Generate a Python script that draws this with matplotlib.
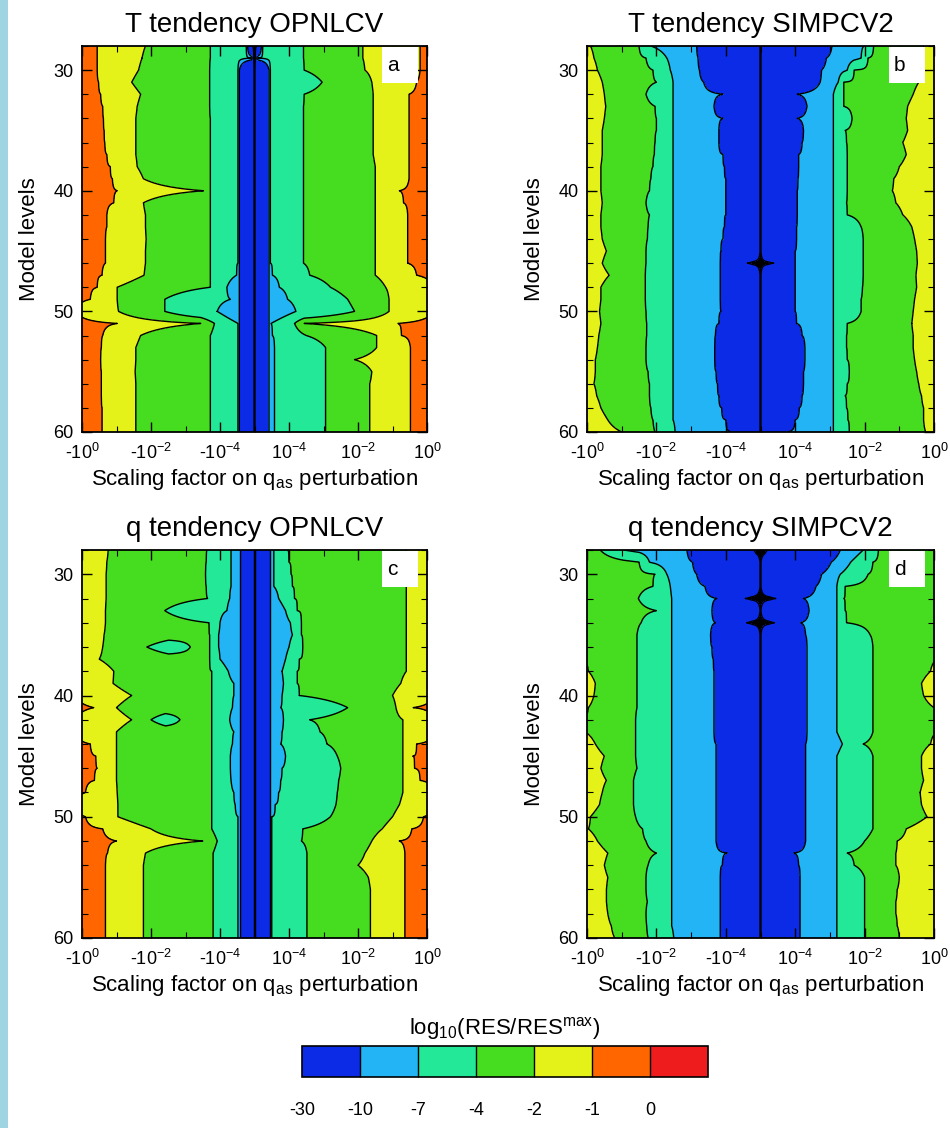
import numpy as np
import matplotlib
matplotlib.use('Agg')
import matplotlib.pyplot as plt
from matplotlib.colors import ListedColormap, BoundaryNorm
from matplotlib.patches import Rectangle
from matplotlib.cm import ScalarMappable

plt.rcParams['font.family'] = ['Liberation Sans', 'DejaVu Sans']
plt.rcParams['mathtext.fontset'] = 'custom'
plt.rcParams['mathtext.rm'] = 'Liberation Sans'
plt.rcParams['mathtext.it'] = 'Liberation Sans:italic'
plt.rcParams['contour.negative_linestyle'] = 'solid'

# ---------------- data ----------------
model_levels = list(range(28, 61))  # 33 rows
contour_levels = [-30, -10, -7, -4, -2, -1, 0]
fill_colors = ['#0b2be6', '#22b4f4', '#22e898', '#46dc20', '#e4f21a', '#ff6600', '#ee1c1c']
x_tick_labels = [r'-10$^{0}$', r'-10$^{-2}$', r'-10$^{-4}$', r'10$^{-4}$', r'10$^{-2}$', r'10$^{0}$']
titles = ['T tendency OPNLCV', 'T tendency SIMPCV2', 'q tendency OPNLCV', 'q tendency SIMPCV2']
panel_letters = ['a', 'b', 'c', 'd']

# boundary positions (x in tick units 0..5) per model level 28..60
# B1: orange|yellow, B2: yellow|green, B3: green|teal, B4: teal|lightblue, B5: lightblue|blue
a_b1l = [0.22,0.22,0.22,0.24,0.27,0.30,0.31,0.32,0.33,0.36,0.41,0.44,0.51,0.46,0.36,0.36,0.34,0.34,0.34,0.29,0.22,0.12,-0.1,0.51,0.30,0.28,0.27,0.28,0.28,0.28,0.29,0.29,0.29]
a_b2l = [0.92,0.87,0.82,0.72,0.85,0.80,0.78,0.78,0.78,0.78,0.80,0.89,1.76,0.89,0.92,0.92,0.93,0.92,0.92,0.90,0.51,0.51,0.53,1.72,0.85,0.78,0.78,0.77,0.78,0.78,0.78,0.78,0.78]
a_b3l = [1.86,1.86,1.85,1.85,1.85,1.85,1.86,1.86,1.86,1.86,1.86,1.86,1.86,1.86,1.86,1.86,1.86,1.86,1.86,1.86,1.86,1.20,1.20,1.92,1.86,1.86,1.86,1.86,1.86,1.86,1.86,1.86,1.86]
a_b4l = [2.38,2.45,2.26,2.26,2.26,2.26,2.26,2.26,2.26,2.26,2.26,2.26,2.26,2.26,2.26,2.26,2.26,2.26,2.26,2.24,2.10,2.15,1.96,2.26,2.26,2.26,2.26,2.26,2.26,2.26,2.26,2.26,2.26]
a_b5l = [2.40,2.47] + [2.28]*31
a_core = [0.03,0.01] + [0.006]*31
a_b5r = [2.60,2.53] + [2.71]*31
a_b4r = [2.62,2.55,2.73,2.73,2.73,2.73,2.73,2.73,2.73,2.73,2.73,2.73,2.73,2.73,2.73,2.73,2.73,2.73,2.73,2.76,2.86,2.98,3.10,2.74,2.76,2.79,2.79,2.79,2.79,2.79,2.79,2.79,2.79]
a_b3r = [3.21,3.21,3.22,3.48,3.22,3.21,3.21,3.21,3.21,3.21,3.21,3.21,3.21,3.21,3.21,3.21,3.21,3.21,3.21,3.30,3.60,3.85,3.95,3.08,3.25,3.53,3.53,3.53,3.53,3.53,3.53,3.53,3.53]
a_b2r = [4.07,4.07,4.10,4.20,4.22,4.22,4.22,4.22,4.22,4.22,4.25,4.25,4.25,4.25,4.25,4.25,4.25,4.25,4.25,4.25,4.40,4.45,4.45,3.22,4.27,4.27,3.95,4.20,4.17,4.17,4.17,4.17,4.17]
a_b1r = [4.90,4.90,4.90,4.85,4.74,4.74,4.74,4.74,4.74,4.74,4.74,4.74,4.60,4.66,4.72,4.72,4.72,4.72,4.72,4.85,5.10,5.10,5.10,4.58,4.63,4.76,4.76,4.76,4.76,4.76,4.76,4.76,4.76]

b_b1l = [-0.1]*33
b_b2l = [0.05,0.10,0.15,0.22,0.25,0.27,0.25,0.22,0.22,0.22,0.20,0.20,0.20,0.22,0.20,0.20,0.22,0.28,0.22,0.32,0.20,0.20,0.18,0.20,0.17,0.15,0.12,0.12,0.10,0.14,0.20,0.30,0.50]
b_b3l = [0.75,0.85,0.95,1.00,0.85,0.98,1.00,1.00,0.98,0.97,0.95,0.92,0.90,0.85,0.90,0.88,0.87,0.85,0.85,0.84,0.84,0.84,0.85,0.86,0.86,0.85,0.85,0.88,0.90,0.90,0.92,0.95,0.98]
b_b4l = [0.92,1.15,1.20] + [1.24]*29 + [1.27]
b_b5l = [1.58,1.60,1.62,1.68,1.96,1.83,1.96,1.90,1.90,1.96,1.98,2.00,2.00,2.00,2.00,1.98,1.96,1.93,1.92,1.92,1.92,1.92,1.93,1.90,1.85,1.84,1.84,1.86,1.88,1.90,1.94,2.00,2.09]
b_core = [0.006]*18 + [0.19] + [0.006]*14
b_b5r = [3.53,3.45,3.38,3.36,3.03,3.17,3.03,3.12,3.10,3.05,3.05,3.04,3.03,3.03,3.03,3.02,3.02,3.00,3.00,3.00,3.00,3.00,3.00,3.02,3.10,3.14,3.14,3.12,3.12,3.10,3.06,3.00,2.88]
b_b4r = [3.99,3.95,3.75,3.62] + [3.55]*29
b_b3r = [4.13,4.05,3.85,3.70,3.70,3.70,3.82,3.72,3.74,3.75,3.75,3.75,3.75,3.74,3.75,3.95,3.98,3.98,3.98,3.98,3.97,3.95,3.95,3.75,3.74,3.74,3.75,3.78,3.75,3.72,3.74,3.76,3.78]
b_b2r = [4.85,4.85,4.85,4.78,4.70,4.62,4.60,4.62,4.55,4.60,4.50,4.42,4.40,4.45,4.55,4.68,4.72,4.75,4.76,4.74,4.75,4.72,4.70,4.68,4.70,4.70,4.72,4.75,4.78,4.82,4.85,4.85,4.88]
b_b1r = [5.1]*33

c_b1l = [-0.1]*13 + [0.17,-0.1,-0.1,0.12,0.20,0.22,0.18,0.05,-0.1,0.05,0.30,0.50,0.37,0.34,0.34,0.34,0.34,0.34,0.34,0.34]
c_b2l = [0.38,0.36,0.35,0.35,0.35,0.34,0.34,0.32,0.30,0.25,0.46,0.45,0.72,0.50,0.72,0.50,0.50,0.50,0.50,0.50,0.51,0.52,0.52,1.00,1.75,0.92,0.89,0.89,0.89,0.89,0.89,0.89,0.89]
c_b3l = [1.81,1.80,1.79,1.80,1.82,1.20,1.84,1.85,1.85,1.85,1.88,1.88,1.88,1.88,1.88,1.88,1.88,1.88,1.88,1.88,1.88,1.88,1.88,1.88,1.96,1.90,1.90,1.90,1.90,1.90,1.90,1.90,1.90]
c_b4l = [2.16,2.16,2.16,2.16,2.14,2.10,2.00,1.98,1.98,2.00,2.12,2.20,2.20,2.18,2.14,2.20,2.18,2.15,2.15,2.16,2.20,2.22,2.26,2.26,2.26,2.26,2.26,2.26,2.26,2.26,2.26,2.26,2.26]
c_b5l = [2.29]*33
c_core = [0.006]*33
c_b5r = [2.73]*33
c_b4r = [2.78,2.78,2.78,2.78,2.85,2.95,3.02,3.05,3.00,2.95,2.90,2.92,2.90,2.88,2.92,2.90,2.88,2.95,2.90,2.88,2.85,2.80,2.75,2.75,2.75,2.75,2.75,2.75,2.75,2.75,2.75,2.75,2.75]
c_b3r = [2.98,3.00,3.03,3.05,3.08,3.12,3.18,3.18,3.20,3.15,3.12,3.12,3.15,3.85,3.30,3.45,3.55,3.70,3.75,3.72,3.70,3.68,3.60,3.20,3.18,3.26,3.26,3.26,3.26,3.26,3.26,3.26,3.26]
c_b2r = [4.70]*11 + [4.62,4.50,4.55,4.65,4.65,4.65,4.65,4.65,4.65,4.65,4.60,4.50,4.35,4.20,4.10,4.00,4.15,4.18,4.18,4.18,4.18,4.18]
c_b1r = [5.1]*13 + [4.80,5.1,5.1,4.85,4.80,4.82,4.90,5.1,5.1,4.95,4.78,4.60,4.68,4.68,4.68,4.68,4.68,4.68,4.68,4.68]
# small teal islands inside the green band of panel c: (level, left, right)
c_islands = [(36, 0.94, 1.57), (42, 1.00, 1.42)]

d_b1l = [-0.1]*33
d_b2l = [-0.05]*10 + [0.02,0.12,0.10,0.02,-0.05,-0.02,0.12,0.25,0.20,0.28,0.22,0.18,0.05,0.02,0.15,0.30,0.25,0.30,0.28,0.28,0.30,0.35,0.40]
d_b3l = [0.19,0.75,0.98,0.95,0.74,1.00,0.78,0.72,0.72,0.72,0.72,0.72,0.72,0.72,0.70,0.70,0.70,0.70,0.72,0.67,0.67,0.67,0.70,0.80,0.85,1.00,0.88,0.85,0.85,0.87,0.85,0.86,0.88]
d_b4l = [0.53,0.90,1.15,1.20] + [1.22]*28 + [1.25]
d_b5l = [1.44,1.52,1.58,1.70,1.87,1.80,1.85,1.78,1.80,1.82,1.83,1.83,1.83,1.83,1.83,1.83,1.86,1.86,1.86,1.86,1.86,1.86,1.86,1.86,1.86,2.02,1.95,1.92,1.92,1.92,1.92,1.92,1.92]
d_core = [0.10,0.006,0.006,0.006,0.22,0.006,0.20] + [0.006]*26
d_b5r = [3.65,3.52,3.38,3.30,3.12,3.20,3.08,3.15] + [3.17]*8 + [3.15]*9 + [2.98,3.05] + [3.07]*6
d_b4r = [3.98,3.80,3.65] + [3.60]*13 + [3.68] + [3.60]*16
d_b3r = [4.20,4.12,4.05,3.72,3.70,3.72,3.74,4.08] + [4.12]*8 + [3.98,4.12] + [4.12]*6 + [4.00,3.75,3.85] + [4.00]*6
d_b2r = [5.05]*10 + [4.95,4.82,4.85,5.00,5.05,5.05,4.95,4.82,4.82,4.85,4.80,4.82,4.90,4.60,4.47,4.45,4.45,4.50,4.47,4.45,4.45,4.47,4.50]
d_b1r = [5.1]*33

panels = [
    ([a_b1l, a_b2l, a_b3l, a_b4l, a_b5l], a_core, [a_b5r, a_b4r, a_b3r, a_b2r, a_b1r], []),
    ([b_b1l, b_b2l, b_b3l, b_b4l, b_b5l], b_core, [b_b5r, b_b4r, b_b3r, b_b2r, b_b1r], []),
    ([c_b1l, c_b2l, c_b3l, c_b4l, c_b5l], c_core, [c_b5r, c_b4r, c_b3r, c_b2r, c_b1r], c_islands),
    ([d_b1l, d_b2l, d_b3l, d_b4l, d_b5l], d_core, [d_b5r, d_b4r, d_b3r, d_b2r, d_b1r], []),
]

# ---------------- field construction from boundary readings ----------------
xs = np.linspace(0.0, 5.0, 1501)
left_vals = [-1, -2, -4, -7, -10]
right_vals = [-10, -7, -4, -2, -1]


def build_field(left, core, right, islands):
    Z = np.empty((len(model_levels), xs.size))
    for i, lev in enumerate(model_levels):
        kx = [-1.0]
        kv = [-0.5]
        for b, v in zip(left, left_vals):
            kx.append(b[i]); kv.append(v)
        hw = core[i]
        if hw > 0.05:
            # wide, shallow dip -> small flat black lens
            kx += [2.5 - hw, 2.5 - 0.6 * hw, 2.5 + 0.6 * hw, 2.5 + hw]
            kv += [-30, -30.5, -30.5, -30]
        else:
            kx += [2.5 - hw, 2.5, 2.5 + hw]
            kv += [-30, -34, -30]
        for b, v in zip(right, right_vals):
            kx.append(b[i]); kv.append(v)
        kx.append(6.0); kv.append(-0.5)
        for (il, ul, ur) in islands:
            if il == lev:
                kx += [ul - 0.04, ul, 0.5 * (ul + ur), ur, ur + 0.04]
                kv += [-3, -4, -5, -4, -3]
        order = np.argsort(kx, kind='stable')
        Z[i] = np.interp(xs, np.array(kx)[order], np.array(kv)[order])
    return Z


# ---------------- figure ----------------
W, H = 950, 1128
fig = plt.figure(figsize=(W / 100, H / 100), dpi=100)
fig.add_artist(Rectangle((0, 0), 8 / W, 1, transform=fig.transFigure,
                         facecolor='#9fd4e3', edgecolor='none', zorder=0))

boxes = [(82, 46, 427, 432), (587, 46, 934, 432), (82, 550, 427, 938), (587, 550, 934, 938)]
contour_colors = ['black'] + fill_colors[:6] + [fill_colors[6]]

for k, (left, core, right, islands) in enumerate(panels):
    x0, y0, x1, y1 = boxes[k]
    ax = fig.add_axes([x0 / W, 1 - y1 / H, (x1 - x0) / W, (y1 - y0) / H])
    Z = build_field(left, core, right, islands)
    ax.contourf(xs, model_levels, Z, levels=contour_levels, colors=contour_colors, extend='both')
    ax.contour(xs, model_levels, Z, levels=contour_levels[:-1], colors='black',
               linewidths=1.0, linestyles='solid')
    ax.set_xlim(0, 5)
    ax.set_ylim(60, 28)
    ax.set_xticks(range(6))
    ax.set_xticklabels(x_tick_labels)
    ax.set_xticks(np.arange(0, 5.01, 0.5), minor=True)
    ax.set_yticks([30, 40, 50, 60])
    ax.set_yticks(range(28, 61, 2), minor=True)
    ax.tick_params(which='both', direction='in', top=True, right=True, labelsize=13)
    ax.tick_params(which='major', length=7, width=1.0)
    ax.tick_params(which='minor', length=4, width=0.8)
    ax.tick_params(axis='x', pad=8)
    ax.tick_params(axis='y', pad=6)
    for s in ax.spines.values():
        s.set_linewidth(1.3)
    ax.set_title(titles[k], fontsize=20, pad=10)
    ax.set_ylabel('Model levels', fontsize=16, labelpad=10)
    ax.set_xlabel(r'Scaling factor on q$_{\rm as}$ perturbation', fontsize=16, labelpad=3)
    ax.add_patch(Rectangle((0.87, 0.905), 0.105, 0.093, transform=ax.transAxes,
                           facecolor='white', edgecolor='none', zorder=5))
    ax.text(0.885, 0.95, panel_letters[k], transform=ax.transAxes, fontsize=15,
            ha='left', va='center', zorder=6)

# colour bar
cax = fig.add_axes([302 / W, 1 - 1077 / H, 406 / W, 31 / H])
cb_bounds = contour_levels + [1]
sm = ScalarMappable(norm=BoundaryNorm(cb_bounds, 7), cmap=ListedColormap(fill_colors))
cb = fig.colorbar(sm, cax=cax, orientation='horizontal', spacing='uniform',
                  ticks=contour_levels, drawedges=True)
cb.ax.minorticks_off()
cb.ax.set_xticklabels([str(v) for v in contour_levels])
cb.ax.tick_params(length=0, pad=18, labelsize=13)
cb.outline.set_linewidth(1.2)
cb.dividers.set_linewidth(1.0)
cax.set_title(r'log$_{10}$(RES/RES$^{\rm max}$)', fontsize=16, pad=8)

fig.savefig('out.png', dpi=100)
